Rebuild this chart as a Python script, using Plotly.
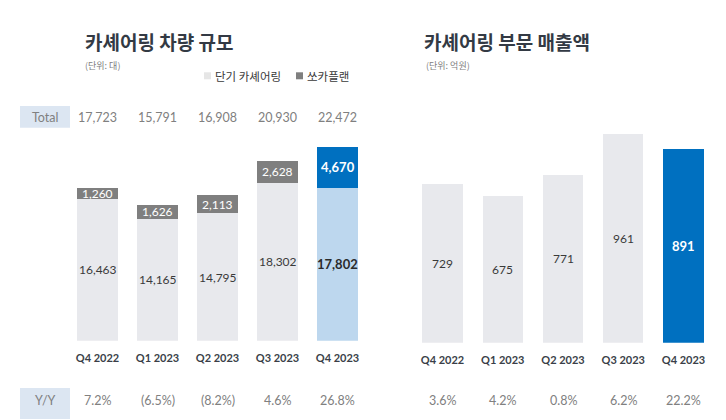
import plotly.graph_objects as go

# ---------------- data ----------------
quarters = ["Q4 2022", "Q1 2023", "Q2 2023", "Q3 2023", "Q4 2023"]
short_term = [16463, 14165, 14795, 18302, 17802]      # 단기 카셰어링
socar_plan = [1260, 1626, 2113, 2628, 4670]           # 쏘카플랜
yoy_fleet = [7.2, -6.5, -8.2, 4.6, 26.8]
revenue = [729, 675, 771, 961, 891]                   # 억원
yoy_revenue = [3.6, 4.2, 0.8, 6.2, 22.2]

# page body has an 8px margin; the figure is sized to fill the rest
OFF = 8
W, H = 726 - OFF, 420 - OFF
NUM_FONT = "Lato, Open Sans, sans-serif"
KR_FONT = "Noto Sans CJK KR, sans-serif"

C_LIGHT = "#e8e9ed"
C_DARK = "#7f7f7f"
C_LBLUE = "#bdd7ee"
C_BLUE = "#0070c0"
C_TXT = "#3a3a3a"
C_GRAY = "#808080"
C_BOX = "#dce6f2"

def px_x(p):
    return (p - OFF) / W

def px_y(p):
    return 1 - (p - OFF) / H

def fmt(v):
    return f"{v:,}"

def fmt_pct(v):
    return f"({abs(v):.1f}%)" if v < 0 else f"{v:.1f}%"

totals = [a + b for a, b in zip(short_term, socar_plan)]
n = len(quarters)
last = n - 1

fig = go.Figure()

fig.add_trace(go.Bar(
    x=quarters, y=short_term, xaxis="x", yaxis="y", width=0.68,
    marker=dict(color=[C_LIGHT] * last + [C_LBLUE], line=dict(width=0)),
    name="단기 카셰어링", hoverinfo="x+y"))
fig.add_trace(go.Bar(
    x=quarters, y=socar_plan, xaxis="x", yaxis="y", width=0.68,
    marker=dict(color=[C_DARK] * last + [C_BLUE], line=dict(width=0)),
    name="쏘카플랜", hoverinfo="x+y"))

fig.add_trace(go.Bar(
    x=quarters, y=revenue, xaxis="x2", yaxis="y2", width=0.67,
    marker=dict(color=[C_LIGHT] * last + [C_BLUE], line=dict(width=0)),
    name="매출액", hoverinfo="x+y"))

L_BOTTOM, TOP = 340.7, 130.0
R_BOTTOM = 342.7
L_UNITS_PER_PX = 116.2
R_UNITS_PER_PX = 4.6

ann = []

def A(**kw):
    kw.setdefault("showarrow", False)
    kw.setdefault("xanchor", "center")
    kw.setdefault("yanchor", "middle")
    ann.append(kw)

for i in range(n):
    bold = i == last
    A(x=quarters[i], y=short_term[i] / 2, xref="x", yref="y",
      text=(f"<b>{fmt(short_term[i])}</b>" if bold else fmt(short_term[i])),
      font=dict(family=NUM_FONT, size=13 if bold else 12,
                color="#2b2b2b" if bold else C_TXT))
    A(x=quarters[i], y=short_term[i] + socar_plan[i] / 2, xref="x", yref="y",
      text=(f"<b>{fmt(socar_plan[i])}</b>" if bold else fmt(socar_plan[i])),
      font=dict(family=NUM_FONT, size=13 if bold else 12, color="white"))
    A(x=quarters[i], y=px_y(117), xref="x", yref="paper",
      text=fmt(totals[i]), font=dict(family=NUM_FONT, size=12.5, color=C_GRAY))
    A(x=quarters[i], y=px_y(400), xref="x", yref="paper",
      text=fmt_pct(yoy_fleet[i]), font=dict(family=NUM_FONT, size=12.5, color=C_GRAY))
    A(x=quarters[i], y=px_y(400), xref="x2", yref="paper",
      text=fmt_pct(yoy_revenue[i]), font=dict(family=NUM_FONT, size=12.5, color=C_GRAY))
    A(x=quarters[i], y=revenue[i] / 2, xref="x2", yref="y2",
      text=(f"<b>{revenue[i]}</b>" if bold else str(revenue[i])),
      font=dict(family=NUM_FONT, size=13 if bold else 12,
                color="white" if bold else C_TXT))

A(x=px_x(83), y=px_y(42), xref="paper", yref="paper", xanchor="left",
  text="<b>카셰어링 차량 규모</b>", font=dict(family=KR_FONT, size=19, color="#333a44"))
A(x=px_x(83), y=px_y(65), xref="paper", yref="paper", xanchor="left",
  text="(단위: 대)", font=dict(family=KR_FONT, size=9, color=C_GRAY))
A(x=px_x(422), y=px_y(42), xref="paper", yref="paper", xanchor="left",
  text="<b>카셰어링 부문 매출액</b>", font=dict(family=KR_FONT, size=19, color="#333a44"))
A(x=px_x(424), y=px_y(65), xref="paper", yref="paper", xanchor="left",
  text="(단위: 억원)", font=dict(family=KR_FONT, size=9, color=C_GRAY))
A(x=px_x(213), y=px_y(75.5), xref="paper", yref="paper", xanchor="left",
  text="단기 카셰어링", font=dict(family=KR_FONT, size=11.5, color=C_TXT))
A(x=px_x(305), y=px_y(75.5), xref="paper", yref="paper", xanchor="left",
  text="쏘카플랜", font=dict(family=KR_FONT, size=11.5, color=C_TXT))
A(x=px_x(45), y=px_y(117), xref="paper", yref="paper",
  text="Total", font=dict(family=NUM_FONT, size=12.5, color=C_GRAY))
A(x=px_x(45), y=px_y(400), xref="paper", yref="paper",
  text="Y/Y", font=dict(family=NUM_FONT, size=12.5, color=C_GRAY))

shapes = [
    dict(type="rect", xref="paper", yref="paper", x0=px_x(20), x1=px_x(70),
         y0=px_y(127.7), y1=px_y(106), fillcolor=C_BOX, line=dict(width=0), layer="below"),
    dict(type="rect", xref="paper", yref="paper", x0=px_x(20), x1=px_x(70),
         y0=px_y(419), y1=px_y(388), fillcolor=C_BOX, line=dict(width=0), layer="below"),
    dict(type="rect", xref="paper", yref="paper", x0=px_x(204), x1=px_x(211),
         y0=px_y(79.3), y1=px_y(72.3), fillcolor="#e6e6e6", line=dict(width=0)),
    dict(type="rect", xref="paper", yref="paper", x0=px_x(296), x1=px_x(303),
         y0=px_y(79.3), y1=px_y(72.3), fillcolor=C_DARK, line=dict(width=0)),
]

tickfont = dict(family=NUM_FONT, size=11, color="#3a3f48", weight="bold")

fig.update_layout(
    width=W, height=H, margin=dict(l=0, r=0, t=0, b=0),
    paper_bgcolor="white", plot_bgcolor="white",
    barmode="stack", showlegend=False,
    annotations=ann, shapes=shapes,
    xaxis=dict(domain=[px_x(67.5), px_x(367.5)], type="category", showgrid=False,
               showline=False, zeroline=False, ticks="", tickfont=tickfont,
               ticklabelstandoff=9, fixedrange=True),
    yaxis=dict(domain=[px_y(L_BOTTOM), px_y(TOP)],
               range=[0, (L_BOTTOM - TOP) * L_UNITS_PER_PX], visible=False, fixedrange=True),
    xaxis2=dict(domain=[px_x(412.4), px_x(713.6)], type="category", showgrid=False,
                showline=False, zeroline=False, ticks="", tickfont=tickfont,
                ticklabelstandoff=9, anchor="y2", fixedrange=True),
    yaxis2=dict(domain=[px_y(R_BOTTOM), px_y(TOP)],
                range=[0, (R_BOTTOM - TOP) * R_UNITS_PER_PX], visible=False,
                anchor="x2", fixedrange=True),
)

fig.write_html("out.html", config={"displayModeBar": False})
